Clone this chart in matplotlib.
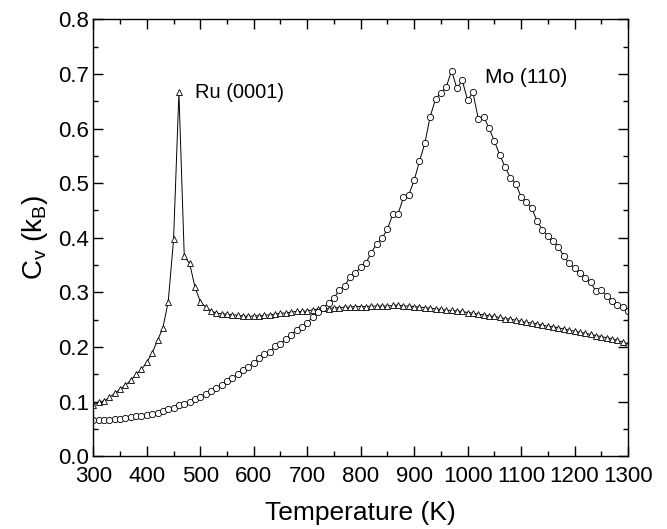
import matplotlib
matplotlib.use('Agg')
import matplotlib.pyplot as plt
import numpy as np
from matplotlib.ticker import MultipleLocator

plt.rcParams['font.family'] = ['Liberation Sans', 'DejaVu Sans']
plt.rcParams['mathtext.fontset'] = 'custom'
plt.rcParams['mathtext.rm'] = 'Liberation Sans'

# temperature grid (K), one point every 10 K
temperature = list(range(300, 1301, 10))

# Ru (0001) - triangles
cv_ru = [
    0.093, 0.100, 0.101, 0.108, 0.115, 0.123, 0.130, 0.139, 0.150, 0.159,
    0.172, 0.189, 0.212, 0.235, 0.283, 0.397, 0.666, 0.366, 0.353, 0.310,
    0.283, 0.273, 0.266, 0.262, 0.261, 0.260, 0.259, 0.258, 0.257, 0.256,
    0.257, 0.257, 0.258, 0.259, 0.260, 0.262, 0.262, 0.264, 0.265, 0.265,
    0.266, 0.268, 0.269, 0.271, 0.270, 0.272, 0.272, 0.273, 0.273, 0.274,
    0.274, 0.274, 0.275, 0.275, 0.275, 0.275, 0.276, 0.277, 0.275, 0.275,
    0.274, 0.273, 0.272, 0.271, 0.270, 0.269, 0.267, 0.267, 0.266, 0.265,
    0.263, 0.262, 0.260, 0.259, 0.257, 0.256, 0.254, 0.252, 0.251, 0.249,
    0.247, 0.245, 0.244, 0.242, 0.240, 0.238, 0.237, 0.235, 0.233, 0.231,
    0.229, 0.227, 0.225, 0.223, 0.221, 0.219, 0.217, 0.215, 0.212, 0.209,
    0.206,
]

# Mo (110) - circles
cv_mo = [
    0.066, 0.066, 0.067, 0.067, 0.068, 0.069, 0.070, 0.071, 0.073, 0.074,
    0.076, 0.078, 0.080, 0.083, 0.086, 0.089, 0.093, 0.096, 0.100, 0.104,
    0.109, 0.114, 0.119, 0.125, 0.131, 0.137, 0.144, 0.150, 0.157, 0.164,
    0.171, 0.179, 0.187, 0.190, 0.202, 0.206, 0.214, 0.222, 0.232, 0.237,
    0.244, 0.255, 0.264, 0.272, 0.280, 0.290, 0.304, 0.312, 0.328, 0.336,
    0.346, 0.354, 0.373, 0.389, 0.399, 0.416, 0.443, 0.444, 0.474, 0.479,
    0.505, 0.540, 0.573, 0.622, 0.654, 0.665, 0.676, 0.706, 0.674, 0.688,
    0.652, 0.666, 0.618, 0.622, 0.601, 0.577, 0.552, 0.530, 0.510, 0.499,
    0.475, 0.465, 0.455, 0.430, 0.415, 0.403, 0.394, 0.383, 0.366, 0.353,
    0.345, 0.336, 0.327, 0.319, 0.302, 0.304, 0.294, 0.284, 0.277, 0.273,
    0.266,
]

fig = plt.figure(figsize=(6.67, 5.29), dpi=100)
ax = fig.add_axes([0.14, 0.1376, 0.8015, 0.8259])

style = dict(color='black', lw=0.7, markersize=4.5, markerfacecolor='white',
             markeredgecolor='black', markeredgewidth=0.6)
ax.plot(temperature, cv_ru, marker='^', **style)
ax.plot(temperature, cv_mo, marker='o', **style)

ax.text(490, 0.666, 'Ru (0001)', fontsize=14.5, ha='left', va='center')
ax.text(1032, 0.694, 'Mo (110)', fontsize=15, ha='left', va='center')

ax.set_xlim(300, 1300)
ax.set_ylim(0.0, 0.8)
ax.xaxis.set_major_locator(MultipleLocator(100))
ax.xaxis.set_minor_locator(MultipleLocator(50))
ax.yaxis.set_major_locator(MultipleLocator(0.1))
ax.yaxis.set_minor_locator(MultipleLocator(0.05))
ax.yaxis.set_major_formatter(matplotlib.ticker.FormatStrFormatter('%.1f'))
ax.tick_params(which='both', direction='in', top=True, right=True, width=1.0)
ax.tick_params(which='major', length=7, labelsize=16)
ax.tick_params(axis='x', which='major', pad=7)
ax.tick_params(axis='y', which='major', pad=3)
ax.tick_params(which='minor', length=3.5)
for spine in ax.spines.values():
    spine.set_linewidth(1.0)

ax.set_xlabel('Temperature (K)', fontsize=19, labelpad=10)
ax.set_ylabel(r'C$_\mathregular{v}$ (k$_\mathregular{B}$)', fontsize=20, labelpad=6)

fig.savefig('out.png', dpi=100)
